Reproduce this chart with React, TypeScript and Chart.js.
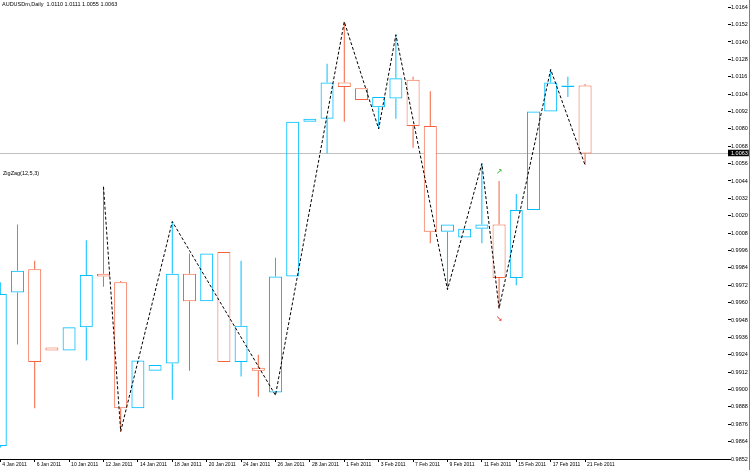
import React, { useEffect, useRef } from 'react';
import { Chart, registerables } from 'chart.js';

Chart.register(...registerables);

// ---- data ----
const dates = [
  '4 Jan 2011', '5 Jan 2011', '6 Jan 2011', '7 Jan 2011', '10 Jan 2011', '11 Jan 2011', '12 Jan 2011',
  '13 Jan 2011', '14 Jan 2011', '17 Jan 2011', '18 Jan 2011', '19 Jan 2011', '20 Jan 2011', '21 Jan 2011',
  '24 Jan 2011', '25 Jan 2011', '26 Jan 2011', '27 Jan 2011', '28 Jan 2011', '31 Jan 2011', '1 Feb 2011',
  '2 Feb 2011', '3 Feb 2011', '4 Feb 2011', '7 Feb 2011', '8 Feb 2011', '9 Feb 2011', '10 Feb 2011',
  '11 Feb 2011', '14 Feb 2011', '15 Feb 2011', '16 Feb 2011', '17 Feb 2011', '18 Feb 2011', '21 Feb 2011',
];

const opens = [
  0.9861, 0.9967, 0.9983, 0.9929, 0.9927, 0.9943, 0.9980, 0.9974, 0.9887, 0.9913,
  0.9918, 0.9980, 0.9961, 0.9995, 0.9919, 0.9915, 0.9898, 0.9978, 1.0085, 1.0087,
  1.0112, 1.0108, 1.0095, 1.0101, 1.0114, 1.0082, 1.0009, 1.0005, 1.0011, 1.0014,
  0.9977, 1.0024, 1.0092, 1.0109, 1.0110,
];
const highs = [
  0.9974, 1.0014, 0.9989, 0.9929, 0.9943, 1.0003, 1.0040, 0.9975, 0.9920, 0.9917,
  1.0016, 0.9994, 0.9994, 0.9995, 0.9989, 0.9924, 0.9991, 1.0085, 1.0087, 1.0125,
  1.0154, 1.0108, 1.0102, 1.0145, 1.0116, 1.0106, 1.0014, 1.0011, 1.0056, 1.0044,
  1.0035, 1.0092, 1.0121, 1.0116, 1.0111,
];
const lows = [
  0.9860, 0.9931, 0.9887, 0.9927, 0.9927, 0.9920, 0.9971, 0.9871, 0.9887, 0.9913,
  0.9893, 0.9913, 0.9961, 0.9919, 0.9909, 0.9895, 0.9896, 0.9978, 1.0085, 1.0063,
  1.0085, 1.0100, 1.0080, 1.0087, 1.0067, 1.0001, 0.9969, 1.0005, 1.0001, 0.9956,
  0.9972, 1.0024, 1.0092, 1.0102, 1.0055,
];
const closes = [
  0.9966, 0.9982, 0.9919, 0.9927, 0.9943, 0.9979, 0.9978, 0.9887, 0.9920, 0.9917,
  0.9980, 0.9961, 0.9994, 0.9919, 0.9944, 0.9913, 0.9978, 1.0085, 1.0087, 1.0112,
  1.0109, 1.0100, 1.0102, 1.0115, 1.0082, 1.0009, 1.0014, 1.0011, 1.0014, 0.9977,
  1.0024, 1.0092, 1.0112, 1.0110, 1.0063,
];

const zigzagBars = [6, 7, 10, 16, 20, 22, 23, 26, 28, 29, 32, 34];
const zigzagSides = ['H', 'L', 'H', 'L', 'H', 'L', 'H', 'L', 'H', 'L', 'H', 'L'];

const dateTickBars = [0, 2, 4, 6, 8, 10, 12, 14, 16, 18, 20, 22, 24, 26, 28, 30, 32, 34];
const priceTicks = [
  1.0164, 1.0152, 1.0140, 1.0128, 1.0116, 1.0104, 1.0092, 1.0080, 1.0068, 1.0056,
  1.0044, 1.0032, 1.0020, 1.0008, 0.9996, 0.9984, 0.9972, 0.9960, 0.9948, 0.9936,
  0.9924, 0.9912, 0.9900, 0.9888, 0.9876, 0.9864, 0.9852,
];
const bidPrice = 1.0063;

const markerBars = [29, 29];
const markerPrices = [1.0050, 0.9949];
const markerGlyphs = ['\u2197', '\u2198'];
const markerColors = ['#2DB82D', '#E8261C'];

const headerText = 'AUDUSDm,Daily  1.0110 1.0111 1.0055 1.0063';
const indicatorText = 'ZigZag(12,5,3)';

// ---- styles ----
const BULL = '#00BFFF';
const BEAR = '#F4623F';
const FONT = 'Liberation Sans';

const isBull = (i: number) => closes[i] >= opens[i];

const overlayPlugin = {
  id: 'mtOverlay',
  afterDatasetsDraw(chart: any) {
    const { ctx, scales } = chart;
    const xs = scales.x;
    const ys = scales.y;
    ctx.save();
    ctx.font = `8px "DejaVu Sans"`;
    ctx.textAlign = 'center';
    ctx.textBaseline = 'middle';
    markerBars.forEach((b, i) => {
      ctx.fillStyle = markerColors[i];
      ctx.fillText(markerGlyphs[i], xs.getPixelForValue(b), ys.getPixelForValue(markerPrices[i]));
    });
    ctx.restore();
  },
  afterDraw(chart: any) {
    const { ctx } = chart;
    ctx.save();
    ctx.fillStyle = '#000';
    ctx.font = `5.5px "${FONT}"`;
    ctx.textAlign = 'left';
    ctx.textBaseline = 'top';
    ctx.fillText(headerText, 2, 2);
    ctx.fillText(indicatorText, 3, 171);
    ctx.strokeStyle = '#808080';
    ctx.lineWidth = 1;
    ctx.beginPath();
    ctx.moveTo(chart.width - 0.5, 0);
    ctx.lineTo(chart.width - 0.5, chart.height);
    ctx.stroke();
    ctx.restore();
  },
};

export default function App() {
  const ref = useRef<HTMLCanvasElement>(null);

  useEffect(() => {
    if (!ref.current) return;

    const bodies = opens.map((o, i) => ({ x: i, y: [o, closes[i]] }));
    const upperWicks = opens.map((o, i) => ({ x: i, y: [Math.max(o, closes[i]), highs[i]] }));
    const lowerWicks = opens.map((o, i) => ({ x: i, y: [lows[i], Math.min(o, closes[i])] }));
    const zigzag = zigzagBars.map((b, j) => ({ x: b, y: zigzagSides[j] === 'H' ? highs[b] : lows[b] }));

    const wickColor = (c: any) => (isBull(c.dataIndex) ? BULL : BEAR);

    const chart = new Chart(ref.current, {
      type: 'bar',
      data: {
        datasets: [
          {
            type: 'line',
            data: zigzag as any,
            borderColor: '#000',
            borderWidth: 1,
            borderDash: [3, 2],
            pointRadius: 0,
            fill: false,
            tension: 0,
            order: 1,
          } as any,
          {
            type: 'bar',
            data: bodies as any,
            grouped: false,
            barThickness: 13,
            borderWidth: 1,
            borderSkipped: false,
            inflateAmount: 0,
            minBarLength: 1,
            borderColor: (c: any) => (isBull(c.dataIndex) ? BULL : BEAR),
            backgroundColor: (c: any) => (isBull(c.dataIndex) ? 'rgba(255,255,255,0)' : '#FFFFFF'),
            order: 3,
          } as any,
          {
            type: 'bar',
            data: upperWicks as any,
            grouped: false,
            barThickness: 1,
            borderWidth: 0,
            inflateAmount: 0,
            backgroundColor: wickColor,
            order: 4,
          } as any,
          {
            type: 'bar',
            data: lowerWicks as any,
            grouped: false,
            barThickness: 1,
            borderWidth: 0,
            inflateAmount: 0,
            backgroundColor: wickColor,
            order: 4,
          } as any,
        ],
      },
      options: {
        animation: false,
        responsive: false,
        events: [],
        layout: { padding: 0 },
        plugins: {
          legend: { display: false },
          tooltip: { enabled: false },
          title: { display: false },
        },
        scales: {
          x: {
            type: 'linear',
            min: -0.0174,
            max: 42.31,
            offset: false,
            bounds: 'data',
            grid: {
              offset: false,
              drawOnChartArea: false,
              drawTicks: true,
              tickLength: 3,
              color: '#000',
            },
            border: { display: true, color: '#000', width: 1 },
            ticks: {
              autoSkip: false,
              maxRotation: 0,
              minRotation: 0,
              align: 'start',
              labelOffset: 2,
              padding: 0,
              color: '#000',
              font: { family: FONT, size: 5 },
              callback: (v: any) => dates[Number(v)] ?? '',
            },
            afterBuildTicks: (s: any) => {
              s.ticks = dateTickBars.map((v) => ({ value: v }));
            },
            afterFit: (s: any) => {
              s.height = 11;
              s.paddingLeft = 0;
              s.paddingRight = 0;
            },
          } as any,
          y: {
            type: 'linear',
            position: 'right',
            min: 0.9852,
            max: 1.0169,
            bounds: 'data',
            grid: {
              drawOnChartArea: true,
              drawTicks: true,
              tickLength: 3,
              color: (c: any) => (c.tick && c.tick.value === bidPrice ? '#C0C0C0' : 'rgba(0,0,0,0)'),
              tickColor: '#000',
            },
            border: { display: false },
            ticks: {
              autoSkip: false,
              padding: 0,
              color: (c: any) => (c.tick && c.tick.value === bidPrice ? '#FFFFFF' : '#000000'),
              font: { family: FONT, size: 5.5, lineHeight: 1 },
              showLabelBackdrop: (c: any) => !!(c.tick && c.tick.value === bidPrice),
              backdropColor: '#000',
              backdropPadding: { left: 3, right: 1, top: 1, bottom: 0 },
              callback: (v: any) => Number(v).toFixed(4),
            },
            afterBuildTicks: (s: any) => {
              s.ticks = [...priceTicks, bidPrice].sort((a, b) => a - b).map((v) => ({ value: v }));
            },
            afterFit: (s: any) => {
              s.width = 22;
              s.paddingTop = 0;
              s.paddingBottom = 0;
            },
          } as any,
        },
      },
      plugins: [overlayPlugin as any],
    });

    return () => chart.destroy();
  }, []);

  return (
    <div style={{ position: 'absolute', left: 0, top: 0, width: 750, height: 470, background: '#fff' }}>
      <canvas ref={ref} width={750} height={470} style={{ display: 'block', width: 750, height: 470 }} />
    </div>
  );
}
